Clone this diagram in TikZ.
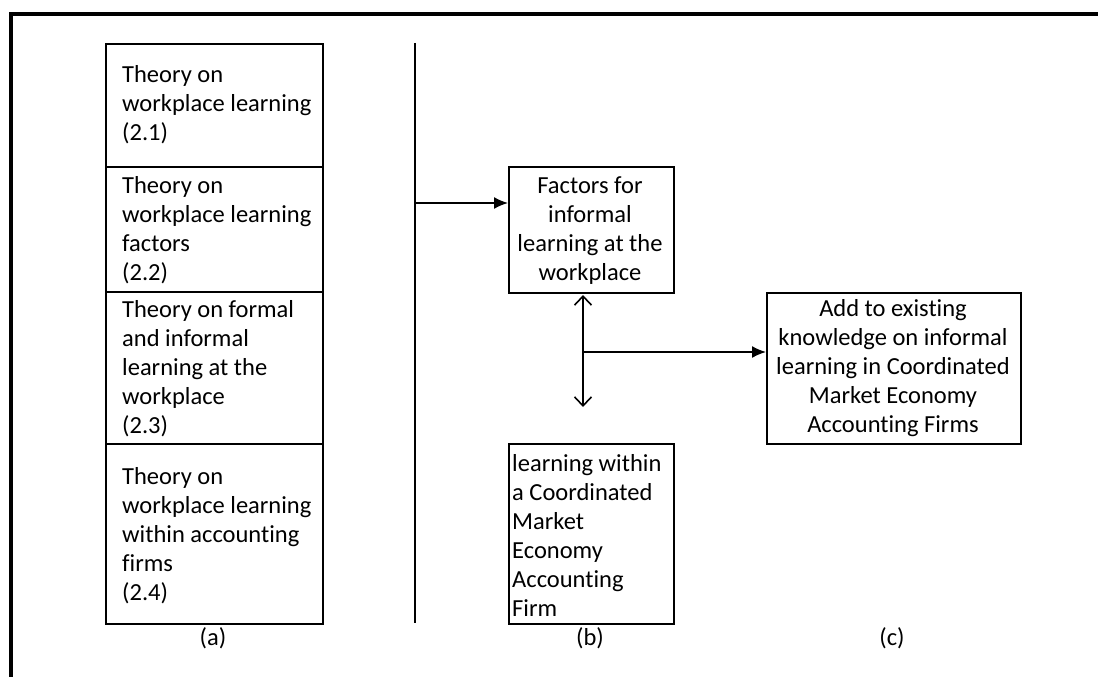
\documentclass[tikz,border=0pt]{standalone}
\usepackage{fontspec}
\setmainfont{Carlito}[Ligatures={NoCommon}]
\usetikzlibrary{arrows.meta}
\begin{document}
\begin{tikzpicture}[x=1pt,y=-1pt,
  box/.style={draw, line width=1.6pt, inner sep=0pt, anchor=north west},
  txt/.style={inner sep=0pt, font=\fontsize{24.5}{29}\selectfont},
  lbl/.style={inner sep=0pt, anchor=base, font=\fontsize{24.5}{29}\selectfont},
  conn/.style={line width=1.6pt},
  filledarr/.style={conn, -{Latex[length=14pt,width=12pt]}},
  bothbarb/.style={conn, {Straight Barb[length=9pt,width=17pt]}-{Straight Barb[length=9pt,width=17pt]}}]
\useasboundingbox (0,0) rectangle (1098,677);
% outer frame
\draw[line width=4pt] (11,677) -- (11,14) -- (1098,14);
% column (a)
\node[box, minimum width=217pt, minimum height=123pt] (a1) at (105,43) {};
\node[box, minimum width=217pt, minimum height=125pt] (a2) at (105,166) {};
\node[box, minimum width=217pt, minimum height=152pt] (a3) at (105,291) {};
\node[box, minimum width=217pt, minimum height=180pt] (a4) at (105,443) {};
\node[txt, anchor=north west, align=left] (t1) at (122,64) {\rule{0pt}{18pt}Theory on\\workplace learning\\(2.1)};
\node[txt, anchor=north west, align=left] (t2) at (122,175) {\rule{0pt}{18pt}Theory on\\workplace learning\\factors\\(2.2)};
\node[txt, anchor=north west, align=left] (t3) at (122,299) {\rule{0pt}{18pt}Theory on formal\\and informal\\learning at the\\workplace\\(2.3)};
\node[txt, anchor=north west, align=left] (t4) at (122,466) {\rule{0pt}{18pt}Theory on\\workplace learning\\within accounting\\firms\\(2.4)};
\node[lbl] (la) at (213,645) {(a)};
% divider line
\coordinate (vtop) at (415,43);
\coordinate (vbot) at (415,623);
\coordinate (vmid) at (415,203);
\draw[conn] (vtop) -- (vbot);
% column (b)
\node[box, minimum width=165pt, minimum height=126pt] (b1) at (508,166) {};
\node[txt, anchor=north, align=center] (tb1) at (590,175) {\rule{0pt}{18pt}Factors for\\informal\\learning at the\\workplace};
\node[box, minimum width=165pt, minimum height=180pt] (b2) at (508,443) {};
\node[txt, anchor=north west, align=left] (tb2) at (512,453) {\rule{0pt}{18pt}learning within\\a Coordinated\\Market\\Economy\\Accounting\\Firm};
\node[lbl] (lb) at (590,645) {(b)};
% column (c)
\node[box, minimum width=254pt, minimum height=151pt] (c) at (766,292) {};
\node[txt, anchor=north, align=center] (tc) at (893,298) {\rule{0pt}{18pt}Add to existing\\knowledge on informal\\learning in Coordinated\\Market Economy\\Accounting Firms};
\node[lbl] (lc) at (892,645) {(c)};
% connectors
\draw[filledarr] (vmid) -- (vmid -| b1.west);
\coordinate (d1) at (583,295);
\coordinate (d2) at (583,407);
\coordinate (d3) at (583,352);
\draw[bothbarb] (d1) -- (d2);
\draw[filledarr] (d3) -- (d3 -| c.west);
\end{tikzpicture}
\end{document}
